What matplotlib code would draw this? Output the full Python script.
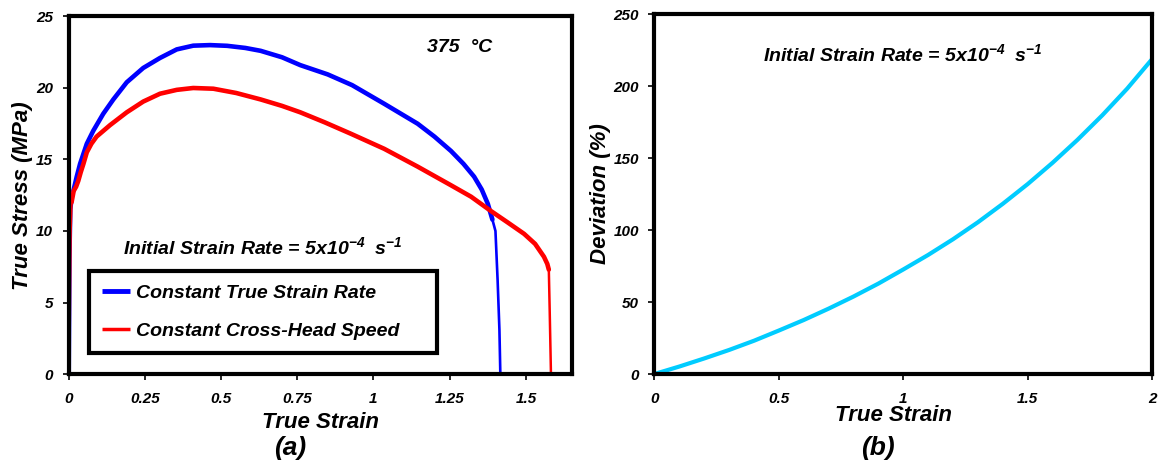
import matplotlib
matplotlib.use("Agg")
import matplotlib.pyplot as plt

plt.rcParams["font.family"] = ["Liberation Sans", "DejaVu Sans"]
plt.rcParams["font.weight"] = "bold"
plt.rcParams["font.style"] = "italic"
plt.rcParams["mathtext.fontset"] = "custom"
plt.rcParams["mathtext.rm"] = "Liberation Sans:bold:italic"
plt.rcParams["mathtext.it"] = "Liberation Sans:bold:italic"
plt.rcParams["mathtext.bf"] = "Liberation Sans:bold:italic"
plt.rcParams["mathtext.default"] = "rm"

# (a) true stress vs true strain, constant true strain rate
strain_ctsr = [0.004, 0.006, 0.009, 0.016, 0.027, 0.038, 0.060, 0.081, 0.114, 0.147,
               0.191, 0.245, 0.30, 0.355, 0.409, 0.464, 0.52, 0.58, 0.63, 0.70,
               0.76, 0.85, 0.93, 1.035, 1.09, 1.145, 1.20, 1.254, 1.295, 1.33,
               1.355, 1.375, 1.39, 1.40, 1.407, 1.413, 1.416]
stress_ctsr = [0.0, 8.0, 11.5, 12.8, 13.8, 14.7, 16.1, 17.0, 18.2, 19.2,
               20.4, 21.4, 22.1, 22.7, 22.96, 23.0, 22.95, 22.8, 22.6, 22.15,
               21.6, 20.95, 20.2, 18.9, 18.2, 17.5, 16.6, 15.6, 14.7, 13.8,
               12.9, 11.9, 10.8, 10.0, 6.6, 3.1, 0.0]

# (a) true stress vs true strain, constant cross-head speed
strain_cchs = [0.003, 0.005, 0.007, 0.010, 0.017, 0.025, 0.032, 0.040, 0.049, 0.060,
               0.075, 0.092, 0.136, 0.191, 0.245, 0.30, 0.355, 0.409, 0.475, 0.55,
               0.63, 0.70, 0.76, 0.84, 0.926, 1.035, 1.145, 1.254, 1.32, 1.385,
               1.44, 1.494, 1.53, 1.559, 1.57, 1.575, 1.578, 1.582]
stress_cchs = [0.0, 6.0, 10.0, 12.0, 12.8, 13.1, 13.5, 14.1, 14.7, 15.5,
               16.1, 16.6, 17.4, 18.3, 19.05, 19.6, 19.87, 20.0, 19.95, 19.65,
               19.2, 18.75, 18.3, 17.6, 16.8, 15.75, 14.5, 13.2, 12.4, 11.4,
               10.6, 9.8, 9.1, 8.2, 7.7, 7.3, 4.3, 0.0]

# (b) deviation between the two loading modes
strain_dev = [0.0, 0.1, 0.2, 0.3, 0.4, 0.5, 0.6, 0.7, 0.8, 0.9, 1.0,
              1.1, 1.2, 1.3, 1.4, 1.5, 1.6, 1.7, 1.8, 1.9, 2.0]
deviation = [0.0, 5.2, 10.8, 16.7, 23.1, 30.2, 37.5, 45.4, 53.8, 62.8, 72.6,
             82.7, 93.6, 105.4, 118.2, 131.9, 146.7, 162.6, 179.7, 198.2, 218.7]

xticks_a = [0, 0.25, 0.5, 0.75, 1, 1.25, 1.5]
xticklabels_a = ["0", "0.25", "0.5", "0.75", "1", "1.25", "1.5"]
yticks_a = [0, 5, 10, 15, 20, 25]
xticks_b = [0, 0.5, 1, 1.5, 2]
xticklabels_b = ["0", "0.5", "1", "1.5", "2"]
yticks_b = [0, 50, 100, 150, 200, 250]

W, H = 1160, 463
fig = plt.figure(figsize=(W / 100, H / 100), dpi=100)
ax1 = fig.add_axes([68.5 / W, (H - 374) / H, 503.5 / W, 357.5 / H])
ax2 = fig.add_axes([654.5 / W, (H - 374) / H, 497.6 / W, 360 / H])

LBL = dict(fontsize=16, fontweight="bold", fontstyle="italic")


def style(ax):
    for s in ax.spines.values():
        s.set_linewidth(3.0)
        s.set_color("black")
    ax.tick_params(axis="x", direction="out", length=4, width=1.2,
                   labelsize=11, pad=9)
    ax.tick_params(axis="y", direction="out", length=4, width=1.2,
                   labelsize=11, pad=7)
    for lab in ax.get_xticklabels() + ax.get_yticklabels():
        lab.set_fontweight("bold")
        lab.set_fontstyle("italic")


# thin elastic rise and fracture drop, thick flow portion
b0, b1 = 3, 33
r0, r1 = 3, 36
ax1.plot(strain_ctsr, stress_ctsr, color="#0000FF", lw=1.9, solid_joinstyle="round")
ax1.plot(strain_ctsr[b0:b1], stress_ctsr[b0:b1], color="#0000FF", lw=3.3,
         solid_joinstyle="round", solid_capstyle="round", label="Constant True Strain Rate")
ax1.plot(strain_cchs, stress_cchs, color="#FF0000", lw=1.8, solid_joinstyle="round")
ax1.plot(strain_cchs[r0:r1], stress_cchs[r0:r1], color="#FF0000", lw=3.3,
         solid_joinstyle="round", solid_capstyle="round", label="Constant Cross-Head Speed")
ax1.set_xlim(0, 1.651)
ax1.set_ylim(0, 25)
ax1.set_xticks(xticks_a)
ax1.set_xticklabels(xticklabels_a)
ax1.set_yticks(yticks_a)
style(ax1)
ax1.set_xlabel("True Strain", labelpad=4, **LBL)
ax1.set_ylabel("True Stress (MPa)", labelpad=2, **LBL)

ax1.text(0.776, 0.913, "375  \u00b0C", transform=ax1.transAxes, ha="center", va="center",
         fontsize=14)
ax1.text(0.386, 0.355, "Initial Strain Rate = 5x10$^{-4}$  s$^{-1}$", transform=ax1.transAxes,
         ha="center", va="center", fontsize=14)

leg = ax1.legend(loc="lower left", bbox_to_anchor=(0.0407, 0.0587, 0.6913, 0.2273),
                 mode="expand", fontsize=14, frameon=True, fancybox=False, framealpha=1.0,
                 handlelength=1.45, handletextpad=0.3, borderpad=0.67,
                 labelspacing=1.06, borderaxespad=0)
leg.get_frame().set_edgecolor("black")
leg.get_frame().set_linewidth(3.0)
leg.get_lines()[0].set_linewidth(3.5)
leg.get_lines()[1].set_linewidth(2.5)
leg.get_lines()[0].set_solid_capstyle("butt")
leg.get_lines()[1].set_solid_capstyle("butt")
for t in leg.get_texts():
    t.set_fontweight("bold")
    t.set_fontstyle("italic")

ax2.plot(strain_dev, deviation, color="#00CCFF", lw=3.0)
ax2.set_xlim(0, 2)
ax2.set_ylim(0, 250)
ax2.set_xticks(xticks_b)
ax2.set_xticklabels(xticklabels_b)
ax2.set_yticks(yticks_b)
style(ax2)
ax2.set_xlabel("True Strain", labelpad=4, **LBL)
ax2.xaxis.set_label_coords(0.48, -0.085)
ax2.set_ylabel("Deviation (%)", labelpad=2, **LBL)
ax2.text(0.5, 0.889, "Initial Strain Rate = 5x10$^{-4}$  s$^{-1}$", transform=ax2.transAxes,
         ha="center", va="center", fontsize=14)

fig.text(290 / W, 1 - 448 / H, "(a)", ha="center", va="center", fontsize=19)
fig.text(878 / W, 1 - 448 / H, "(b)", ha="center", va="center", fontsize=19)

fig.savefig("out.png", dpi=100)
